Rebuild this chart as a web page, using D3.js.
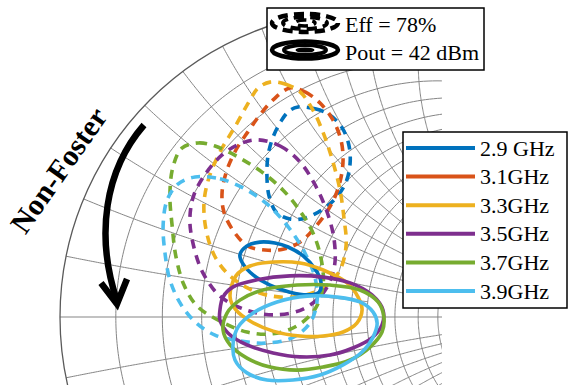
<!DOCTYPE html>
<html><head><meta charset="utf-8">
<script src="https://cdn.jsdelivr.net/npm/d3@7"></script>
<style>
body{margin:0;background:#fff}
svg{display:block}
text{font-family:"Liberation Serif","Times New Roman","DejaVu Serif",serif}
</style>
</head><body>
<svg id="chart" width="570" height="385"></svg>
<script>
// Frequencies and their line colours
const frequencies = ["2.9 GHz", "3.1GHz", "3.3GHz", "3.5GHz", "3.7GHz", "3.9GHz"];
const seriesColors = ["#0072BD", "#D95319", "#EDB120", "#7E2F8E", "#77AC30", "#4DBEEE"];

// Smith chart grid: circle values and how far each circle/arc is drawn
const gridValues  = [0.1, 0.2, 0.3, 0.4, 0.5, 0.6, 0.7, 0.8, 0.9, 1, 1.2, 1.4, 1.6, 1.8, 2, 3, 4, 5, 10, 20, 50];
const gridExtents = [1, 2, 2, 2, 2, 2, 2, 2, 2, 5, 5, 5, 5, 5, 5, 10, 10, 10, 20, 50, Infinity];

// Efficiency contours (Eff = 78%), reflection coefficient [re, im]
const eff29 = [[-0.225,0.684],[-0.169,0.678],[-0.121,0.658],[-0.081,0.616],[-0.059,0.560],[-0.055,0.502],[-0.068,0.440],[-0.101,0.388],[-0.147,0.349],[-0.202,0.322],[-0.251,0.319],[-0.296,0.342],[-0.319,0.394],[-0.326,0.463],[-0.322,0.528],[-0.306,0.586],[-0.280,0.638],[-0.254,0.671]];
const eff31 = [[-0.251,0.746],[-0.202,0.733],[-0.153,0.697],[-0.111,0.642],[-0.085,0.577],[-0.078,0.511],[-0.088,0.440],[-0.114,0.371],[-0.160,0.303],[-0.218,0.244],[-0.274,0.221],[-0.332,0.218],[-0.388,0.231],[-0.433,0.277],[-0.466,0.342],[-0.472,0.407],[-0.456,0.479],[-0.427,0.544],[-0.388,0.603],[-0.349,0.658],[-0.306,0.707]];
const eff33 = [[-0.316,0.765],[-0.267,0.759],[-0.218,0.733],[-0.176,0.674],[-0.140,0.593],[-0.111,0.505],[-0.088,0.414],[-0.075,0.322],[-0.068,0.235],[-0.088,0.153],[-0.137,0.098],[-0.218,0.068],[-0.309,0.068],[-0.388,0.094],[-0.453,0.140],[-0.498,0.202],[-0.524,0.283],[-0.531,0.371],[-0.515,0.453],[-0.479,0.537],[-0.427,0.625],[-0.381,0.707],[-0.355,0.746]];
const eff35 = [[-0.355,0.577],[-0.283,0.557],[-0.218,0.505],[-0.169,0.430],[-0.130,0.342],[-0.107,0.251],[-0.107,0.160],[-0.143,0.078],[-0.208,0.026],[-0.300,0.007],[-0.394,0.023],[-0.479,0.068],[-0.534,0.143],[-0.564,0.228],[-0.577,0.316],[-0.564,0.397],[-0.524,0.469],[-0.472,0.528],[-0.414,0.564]];
const eff37 = [[-0.603,0.550],[-0.550,0.567],[-0.495,0.557],[-0.420,0.521],[-0.342,0.472],[-0.274,0.414],[-0.218,0.345],[-0.176,0.274],[-0.150,0.192],[-0.143,0.104],[-0.169,0.026],[-0.228,-0.029],[-0.309,-0.055],[-0.391,-0.049],[-0.479,-0.013],[-0.554,0.036],[-0.596,0.104],[-0.622,0.195],[-0.635,0.300],[-0.642,0.397],[-0.632,0.489]];
const eff39 = [[-0.560,0.456],[-0.479,0.450],[-0.397,0.417],[-0.322,0.365],[-0.254,0.290],[-0.202,0.208],[-0.169,0.127],[-0.163,0.049],[-0.186,-0.020],[-0.244,-0.068],[-0.332,-0.085],[-0.414,-0.078],[-0.495,-0.059],[-0.560,-0.016],[-0.609,0.046],[-0.642,0.121],[-0.658,0.208],[-0.664,0.300],[-0.651,0.381],[-0.616,0.433]];

// Output power contours (Pout = 42 dBm)
const pout29 = [[-0.414,0.202],[-0.391,0.231],[-0.349,0.244],[-0.300,0.241],[-0.257,0.228],[-0.208,0.199],[-0.169,0.156],[-0.150,0.114],[-0.156,0.081],[-0.192,0.072],[-0.251,0.081],[-0.316,0.104],[-0.371,0.137],[-0.404,0.173]];
const pout31 = [];
const pout33 = [[-0.446,0.065],[-0.427,0.134],[-0.381,0.166],[-0.306,0.179],[-0.218,0.176],[-0.143,0.153],[-0.065,0.111],[-0.029,0.065],[-0.016,0.023],[-0.033,-0.020],[-0.078,-0.049],[-0.143,-0.062],[-0.218,-0.062],[-0.306,-0.046],[-0.381,-0.013],[-0.427,0.023]];
const pout35 = [[-0.479,0.023],[-0.469,0.065],[-0.436,0.098],[-0.358,0.121],[-0.251,0.134],[-0.143,0.130],[-0.055,0.111],[0.016,0.072],[0.052,0.023],[0.049,-0.026],[0.016,-0.068],[-0.046,-0.101],[-0.121,-0.124],[-0.218,-0.130],[-0.306,-0.117],[-0.391,-0.091],[-0.453,-0.052],[-0.479,-0.010]];
const pout37 = [[-0.469,-0.042],[-0.456,0.013],[-0.414,0.055],[-0.339,0.088],[-0.228,0.104],[-0.121,0.104],[-0.023,0.088],[0.036,0.049],[0.055,0.000],[0.049,-0.049],[0.010,-0.098],[-0.055,-0.140],[-0.143,-0.163],[-0.228,-0.173],[-0.316,-0.163],[-0.391,-0.134],[-0.446,-0.091]];
const pout39 = [[-0.436,-0.085],[-0.420,-0.033],[-0.371,0.013],[-0.293,0.049],[-0.195,0.068],[-0.098,0.065],[-0.023,0.049],[0.020,0.016],[0.033,-0.020],[0.020,-0.065],[-0.016,-0.114],[-0.078,-0.156],[-0.153,-0.189],[-0.241,-0.205],[-0.326,-0.205],[-0.391,-0.182],[-0.430,-0.140]];

const effContours  = [eff29, eff31, eff33, eff35, eff37, eff39];
const poutContours = [pout29, pout31, pout33, pout35, pout37, pout39];

const legendTitles = ["Eff = 78%", "Pout = 42 dBm"];
const arrowLabel = "Non-Foster";

const svg = d3.select("#chart");
const x = d3.scaleLinear().domain([-1, 1]).range([60, 674]);
const y = d3.scaleLinear().domain([-1, 1]).range([624, 10]);

// Reflection coefficient from normalised impedance r + jx
function gamma(r, xi) {
  const d = (r + 1) * (r + 1) + xi * xi;
  return [(r * r - 1 + xi * xi) / d, (2 * xi) / d];
}

const line = d3.line().x(d => x(d[0])).y(d => y(d[1]));

svg.append("defs").append("clipPath").attr("id", "plotClip")
  .append("rect").attr("x", 0).attr("y", 0).attr("width", 442).attr("height", 385);

const grid = svg.append("g").attr("clip-path", "url(#plotClip)");
const N = 240;
const gridColor = "#858585";

gridValues.forEach((v, i) => {
  const e = gridExtents[i];
  const tMax = Math.atan(e);
  // constant resistance circle
  const rPts = d3.range(N + 1).map(k => gamma(v, Math.tan(-tMax + 2 * tMax * k / N)));
  grid.append("path").attr("d", line(rPts))
    .attr("fill", "none").attr("stroke", gridColor).attr("stroke-width", 1);
  // constant reactance arcs (+ and -)
  [v, -v].forEach(xv => {
    const xPts = d3.range(N + 1).map(k => {
      const t = tMax * k / N;
      const r = Math.min(Math.tan(t), 1e6);
      return gamma(r, xv);
    });
    grid.append("path").attr("d", line(xPts))
      .attr("fill", "none").attr("stroke", gridColor).attr("stroke-width", 1);
  });
});

// real axis
grid.append("path").attr("d", line([[-1, 0], [1, 0]]))
  .attr("stroke", gridColor).attr("stroke-width", 1.2);

// unit circle
grid.append("circle").attr("cx", x(0)).attr("cy", y(0)).attr("r", x(1) - x(0))
  .attr("fill", "none").attr("stroke", "#5a5a5a").attr("stroke-width", 1.3);

// contours
const closed = d3.line().x(d => x(d[0])).y(d => y(d[1])).curve(d3.curveCatmullRomClosed.alpha(0.5));
const contours = svg.append("g");
effContours.forEach((pts, i) => {
  if (!pts.length) return;
  contours.append("path").attr("d", closed(pts))
    .attr("fill", "none").attr("stroke", seriesColors[i])
    .attr("stroke-width", 3.6).attr("stroke-dasharray", "9 7");
});
poutContours.forEach((pts, i) => {
  if (!pts.length) return;
  contours.append("path").attr("d", closed(pts))
    .attr("fill", "none").attr("stroke", seriesColors[i])
    .attr("stroke-width", 3.6);
});

// frequency legend
const lg = svg.append("g");
lg.append("rect").attr("x", 403).attr("y", 132).attr("width", 164).attr("height", 176)
  .attr("fill", "#fff").attr("stroke", "#000").attr("stroke-width", 1.5);
frequencies.forEach((f, i) => {
  const yy = 148 + i * 28.6;
  lg.append("line").attr("x1", 406).attr("x2", 475).attr("y1", yy).attr("y2", yy)
    .attr("stroke", seriesColors[i]).attr("stroke-width", 4);
  lg.append("text").attr("x", 480).attr("y", yy + 7.5)
    .attr("font-size", 22).attr("fill", "#000").text(f);
});

// contour-type legend
const tg = svg.append("g");
tg.append("rect").attr("x", 267).attr("y", 8).attr("width", 217).attr("height", 62)
  .attr("fill", "#fff").attr("stroke", "#000").attr("stroke-width", 1.5);
[[33, 9, 4.5], [22, 6, 4], [10, 3, 3.5]].forEach(([rx, ry, w], k) => {
  tg.append("ellipse").attr("cx", 305).attr("cy", 23).attr("rx", rx).attr("ry", ry)
    .attr("fill", "none").attr("stroke", "#000").attr("stroke-width", w)
    .attr("stroke-dasharray", "10 6").attr("stroke-dashoffset", k * 4);
});
[[33, 8.5, 4.5], [21, 5, 4], [8, 1, 3]].forEach(([rx, ry, w]) => {
  tg.append("ellipse").attr("cx", 305).attr("cy", 50).attr("rx", rx).attr("ry", ry)
    .attr("fill", "none").attr("stroke", "#000").attr("stroke-width", w);
});
legendTitles.forEach((t, i) => {
  tg.append("text").attr("x", 345).attr("y", 32 + i * 28)
    .attr("font-size", 22).attr("fill", "#000").text(t);
});

// annotation arrow and label
const ann = svg.append("g");
ann.append("path").attr("d", "M144,125 C105,170 95,235 117,301")
  .attr("fill", "none").attr("stroke", "#000").attr("stroke-width", 6.5);
ann.append("path").attr("d", "M101,283 L117,304 L127,279")
  .attr("fill", "none").attr("stroke", "#000").attr("stroke-width", 6.5)
  .attr("stroke-linejoin", "miter");
ann.append("text").attr("transform", "translate(67,176) rotate(-55)")
  .attr("text-anchor", "middle").attr("font-weight", "bold")
  .attr("font-size", 30).attr("fill", "#000").text(arrowLabel);
</script>
</body></html>
